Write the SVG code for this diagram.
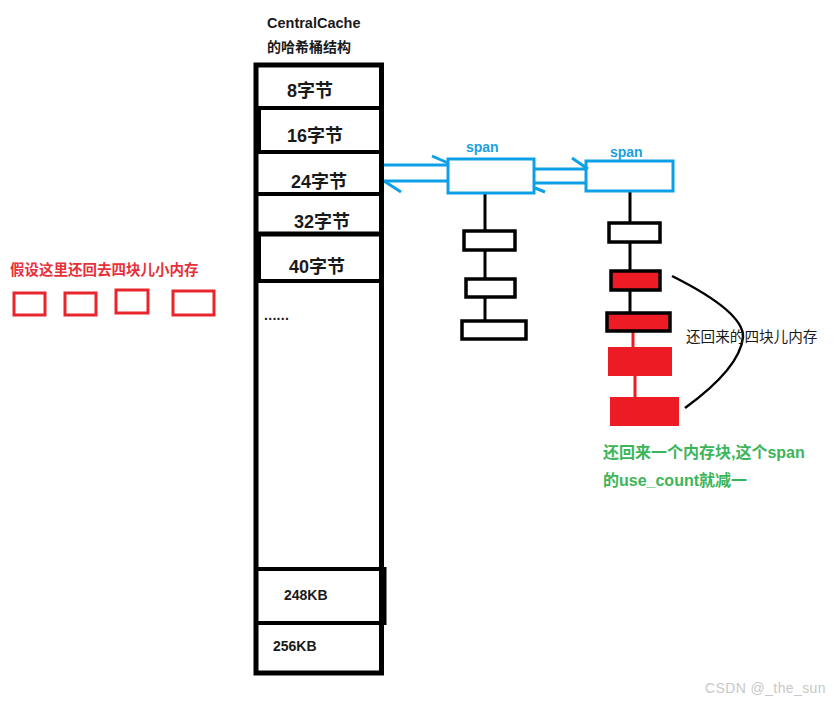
<svg xmlns="http://www.w3.org/2000/svg" width="834" height="703" viewBox="0 0 834 703">
<style>
.t{font-family:"Liberation Sans","Noto Sans CJK SC",sans-serif;font-weight:bold;}
.blk{fill:#1a1a1a;}
.cell{font-size:18px;}
.kb{font-size:14px;}
.blue{fill:#1aa0e0;font-size:14px;}
.bl{stroke:#0ea0e6;stroke-width:3;fill:none;}
.k{stroke:#000;fill:none;}
.box{fill:#fff;stroke:#000;stroke-width:3.5;}
.rbox{fill:#ed1c24;stroke:#000;stroke-width:3.5;}
.red{fill:#ed1c24;}
.rline{stroke:#ed1c24;stroke-width:3;}
.ro{fill:none;stroke:#e8242c;stroke-width:3;}
</style>
<rect width="834" height="703" fill="#fff"/>

<g id="connectors">
<line x1="381" y1="165" x2="448" y2="165" class="bl"/>
<line x1="383" y1="181" x2="448" y2="181" class="bl"/>
<line x1="432" y1="156" x2="448" y2="163" class="bl"/>
<line x1="384" y1="181" x2="401" y2="192" class="bl"/>
<line x1="534" y1="169" x2="587" y2="169" class="bl"/>
<line x1="534" y1="183" x2="587" y2="183" class="bl"/>
<line x1="572" y1="158" x2="588" y2="169" class="bl"/>
<line x1="535" y1="188" x2="545" y2="192" class="bl"/>
<line x1="485" y1="193" x2="485" y2="321" class="k" stroke-width="3"/>
<line x1="630" y1="191" x2="630" y2="313" class="k" stroke-width="3"/>
<line x1="633" y1="331" x2="633" y2="347" class="rline"/>
<line x1="635" y1="376" x2="635" y2="397" class="rline"/>
<path d="M672,276 Q744,312 743,337 Q740,368 685,408" class="k" stroke-width="2.5"/>
</g>

<g id="title">
<text class="t blk" x="267" y="28" font-size="14.5">CentralCache</text>
<text class="t blk" x="267" y="52" font-size="14">的哈希桶结构</text>
</g>

<g id="bucket-table">
<rect x="256" y="65" width="125.5" height="608" fill="none" stroke="#000" stroke-width="5"/>
<line x1="256" y1="108" x2="381" y2="108" class="k" stroke-width="4"/>
<line x1="256" y1="152" x2="381" y2="152" class="k" stroke-width="4"/>
<line x1="256" y1="194" x2="381" y2="194" class="k" stroke-width="4"/>
<line x1="256" y1="234" x2="381" y2="234" class="k" stroke-width="5"/>
<line x1="256" y1="281" x2="381" y2="281" class="k" stroke-width="4"/>
<line x1="256" y1="569" x2="386" y2="569" class="k" stroke-width="4"/>
<line x1="256" y1="623" x2="386" y2="623" class="k" stroke-width="4"/>
<line x1="384" y1="567" x2="384" y2="625" class="k" stroke-width="5"/>
<line x1="258.5" y1="108" x2="258.5" y2="152" class="k" stroke-width="5"/>
<line x1="258.5" y1="234" x2="258.5" y2="281" class="k" stroke-width="5"/>
<text class="t blk cell" x="287" y="97">8字节</text>
<text class="t blk cell" x="287" y="142">16字节</text>
<text class="t blk cell" x="291" y="188">24字节</text>
<text class="t blk cell" x="294" y="228">32字节</text>
<text class="t blk cell" x="289" y="273">40字节</text>
<text class="t blk" x="264" y="320" font-size="14" letter-spacing="0.3">......</text>
<text class="t blk kb" x="284" y="600">248KB</text>
<text class="t blk kb" x="273" y="651">256KB</text>
</g>

<g id="span1">
<text class="t blue" x="466" y="152">span</text>
<rect x="448" y="159" width="86" height="34" class="bl" fill="#fff"/>
</g>
<g id="span2">
<text class="t blue" x="610" y="157">span</text>
<rect x="586" y="161" width="87" height="30" class="bl" fill="#fff"/>
</g>

<g id="span1-blocks">
<rect x="464" y="231" width="51" height="19" class="box"/>
<rect x="466" y="279" width="49" height="18" class="box"/>
<rect x="462" y="321" width="64" height="18" class="box"/>
</g>

<g id="span2-blocks">
<rect x="609" y="223" width="51" height="19" class="box"/>
<rect x="611" y="271" width="49" height="19" class="rbox"/>
<rect x="607" y="313" width="63" height="18" class="rbox"/>
<rect x="608" y="347" width="64" height="29" class="red"/>
<rect x="610" y="397" width="69" height="29" class="red"/>
</g>

<g id="returned-label">
<text x="686" y="342" font-family="Liberation Sans,'Noto Sans CJK SC',sans-serif" font-size="14.6" fill="#1a1a1a">还回来的四块儿内存</text>
</g>

<g id="green-note">
<text class="t" x="603" y="458" font-size="16" fill="#3cb55a">还回来一个内存块,这个span</text>
<text class="t" x="603" y="486" font-size="16" fill="#3cb55a">的use_count就减一</text>
</g>

<g id="returned-blocks">
<text class="t" x="10" y="275" font-size="14.5" fill="#e8303a">假设这里还回去四块儿小内存</text>
<rect x="14" y="293" width="31" height="22" class="ro"/>
<rect x="65" y="293" width="31" height="22" class="ro"/>
<rect x="116" y="290" width="32" height="23" class="ro"/>
<rect x="173" y="291" width="41" height="24" class="ro"/>
</g>

<g id="watermark">
<text x="705" y="693" font-family="Liberation Sans,sans-serif" font-size="14" letter-spacing="0.4" fill="#c8c8c8">CSDN @_the_sun</text>
</g>
</svg>
